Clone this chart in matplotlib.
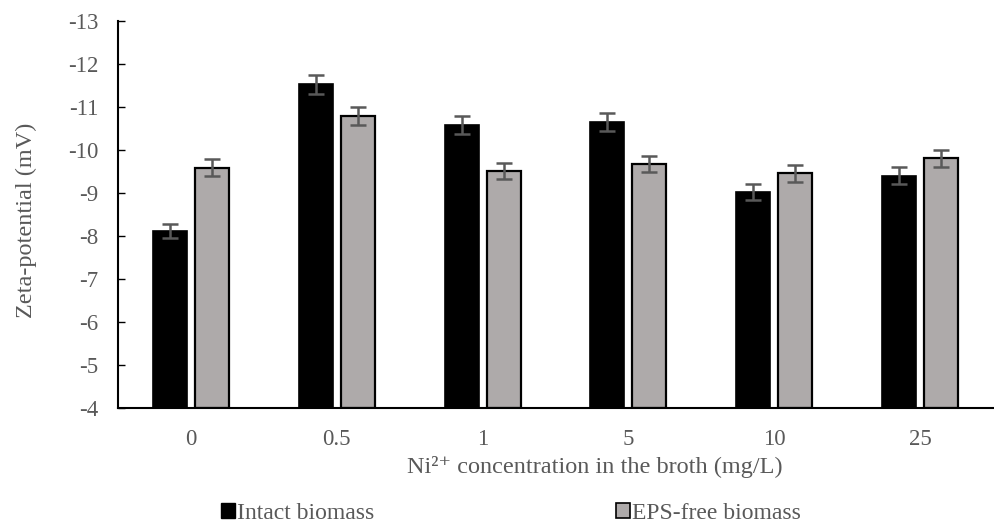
"""Grouped bar chart of zeta-potential with error bars"""

import matplotlib
matplotlib.use("Agg")
import matplotlib.pyplot as plt
import numpy as np
from matplotlib.patches import Patch

plt.rcParams["font.family"] = ["Liberation Serif", "DejaVu Serif"]
plt.rcParams["axes.unicode_minus"] = False

# data
concentrations = ["0", "0.5", "1", "5", "10", "25"]
intact = [-8.12, -11.53, -10.57, -10.65, -9.02, -9.40]
intact_err = [0.17, 0.22, 0.21, 0.20, 0.18, 0.20]
eps_free = [-9.59, -10.79, -9.51, -9.67, -9.46, -9.81]
eps_free_err = [0.20, 0.22, 0.19, 0.19, 0.20, 0.20]

text_col = "#595959"
base = -4

fig = plt.figure(figsize=(9.94, 5.23), dpi=100)
ax = fig.add_axes([0.1187, 0.2199, 0.8803, 0.7400])

x = np.arange(len(concentrations))
w = 0.233
off = 0.144

ax.bar(x - off, np.array(intact) - base, bottom=base, width=w,
       color="black", edgecolor="black", linewidth=1.2)
ax.bar(x + off, np.array(eps_free) - base, bottom=base, width=w,
       color="#AEAAAA", edgecolor="black", linewidth=1.6)

ekw = dict(fmt="none", ecolor="#595959", elinewidth=1.8, capsize=6, capthick=1.8)
ax.errorbar(x - off, intact, yerr=intact_err, **ekw)
ax.errorbar(x + off, eps_free, yerr=eps_free_err, **ekw)

ax.set_xlim(-0.5, len(concentrations) - 0.5)
ax.set_ylim(-4, -13)
ax.set_yticks(np.arange(-4, -14, -1))
ax.set_xticks(x)
ax.set_xticklabels(concentrations)

for s in ["top", "right"]:
    ax.spines[s].set_visible(False)
for s in ["left", "bottom"]:
    ax.spines[s].set_linewidth(1.5)

ax.tick_params(axis="y", direction="in", length=5, width=1, pad=14,
               labelsize=16.5, labelcolor=text_col)
ax.tick_params(axis="x", length=0, pad=15, labelsize=16.5, labelcolor=text_col)

ax.set_ylabel("Zeta-potential (mV)", fontsize=17.5, color=text_col)
ax.yaxis.set_label_coords(-0.093, 0.485)
ax.set_xlabel("Ni²⁺ concentration in the broth (mg/L)",
              fontsize=17.5, color=text_col)
ax.xaxis.set_label_coords(0.545, -0.125)

handles = [Patch(facecolor="black", edgecolor="black"),
           Patch(facecolor="#AEAAAA", edgecolor="black", linewidth=1.2)]
fig.legend(handles, ["Intact biomass", "EPS-free biomass"],
           loc="center", bbox_to_anchor=(0.514, 0.018), ncol=2, frameon=False,
           fontsize=17, handlelength=0.6, handleheight=0.6, handletextpad=0.1,
           columnspacing=10.2, labelcolor=text_col)

fig.savefig("out.png", dpi=100)
